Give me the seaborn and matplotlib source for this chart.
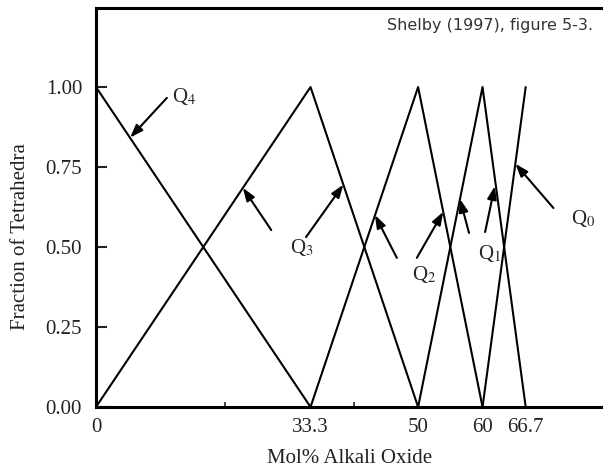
import numpy as np
import pandas as pd
import matplotlib
matplotlib.use('Agg')
from matplotlib import pyplot as plt
import seaborn as sns

# vertices of the Q-species triangles (mol% alkali oxide, fraction)
q4_x = [0, 33.3]
q4_y = [1.0, 0.0]
q3_x = [0, 33.3, 50]
q3_y = [0.0, 1.0, 0.0]
q2_x = [33.3, 50, 60]
q2_y = [0.0, 1.0, 0.0]
q1_x = [50, 60, 66.7]
q1_y = [0.0, 1.0, 0.0]
q0_x = [60, 66.7]
q0_y = [0.0, 1.0]

x_ticks = [0, 33.3, 50, 60, 66.7]
x_ticklabels = ['0', '33.3', '50', '60', '66.7']
y_ticks = [0.0, 0.25, 0.50, 0.75, 1.00]
y_ticklabels = ['0.00', '0.25', '0.50', '0.75', '1.00']

# label text, label position, arrow tails and tips
labels = {
    'Q4': dict(text=(11.8, 0.97), arrows=[((11.0, 0.966), (5.3, 0.842))]),
    'Q3': dict(text=(30.1, 0.50), arrows=[((27.2, 0.553), (22.8, 0.685)),
                                          ((32.6, 0.531), (38.4, 0.695))]),
    'Q2': dict(text=(49.1, 0.415), arrows=[((46.7, 0.466), (43.3, 0.60)),
                                           ((49.8, 0.466), (53.9, 0.61))]),
    'Q1': dict(text=(59.3, 0.48), arrows=[((57.9, 0.544), (56.5, 0.65)),
                                          ((60.4, 0.547), (61.9, 0.69))]),
    'Q0': dict(text=(73.8, 0.59), arrows=[((71.0, 0.622), (65.1, 0.76))]),
}

frames = []
for name, xs, ys in [('Q4', q4_x, q4_y), ('Q3', q3_x, q3_y), ('Q2', q2_x, q2_y),
                     ('Q1', q1_x, q1_y), ('Q0', q0_x, q0_y)]:
    frames.append(pd.DataFrame({'species': name, 'x': xs, 'y': ys}))
df = pd.concat(frames, ignore_index=True)

sns.set_style('white')
plt.rcParams['font.family'] = ['Liberation Serif', 'DejaVu Serif']
plt.rcParams['mathtext.fontset'] = 'stix'

fig = plt.figure(figsize=(6.03, 4.69), dpi=100)
ax = fig.add_axes([96 / 603, 1 - 407 / 469, (603 - 96) / 603, (407 - 8) / 469])

sns.lineplot(data=df, x='x', y='y', hue='species', units='species', estimator=None,
             sort=False, palette={s: 'black' for s in labels}, legend=False,
             linewidth=1.5, ax=ax)

for name, d in labels.items():
    ax.text(d['text'][0], d['text'][1], 'Q$_{%s}$' % name[1], fontsize=15,
            ha='left', va='center')
    for tail, tip in d['arrows']:
        ax.annotate('', xy=tip, xytext=tail,
                    arrowprops=dict(arrowstyle='-|>,head_length=0.7,head_width=0.25',
                                    color='black', lw=1.5,
                                    mutation_scale=11, shrinkA=0, shrinkB=0))

ax.set_xlim(0, 78.7)
ax.set_ylim(0, 1.247)
ax.set_xticks(x_ticks)
ax.set_xticklabels(x_ticklabels)
ax.set_xticks([20, 40], minor=True)
ax.set_yticks(y_ticks)
ax.set_yticklabels(y_ticklabels)
ax.tick_params(axis='x', which='major', length=0, pad=8, labelsize=15, colors='#222222')
ax.tick_params(axis='x', which='minor', direction='in', length=3.5, width=1.2, bottom=True)
ax.tick_params(axis='y', direction='in', length=8, width=1.5, pad=10, labelsize=15,
               colors='#222222', left=True)

for side in ['top', 'left', 'bottom']:
    ax.spines[side].set_linewidth(2.2)
    ax.spines[side].set_color('black')
ax.spines['right'].set_visible(False)

ax.set_xlabel('Mol% Alkali Oxide', fontsize=15, color='#222222')
ax.set_ylabel('Fraction of Tetrahedra', fontsize=15, color='#222222')
ax.xaxis.set_label_coords(0.5, -0.105)
ax.yaxis.set_label_coords(-0.13, 0.426)

ax.text(0.98, 0.955, 'Shelby (1997), figure 5-3.', transform=ax.transAxes,
        ha='right', va='center', fontsize=11.5, family='DejaVu Sans', color='#333333')

plt.savefig('out.png', dpi=100)
